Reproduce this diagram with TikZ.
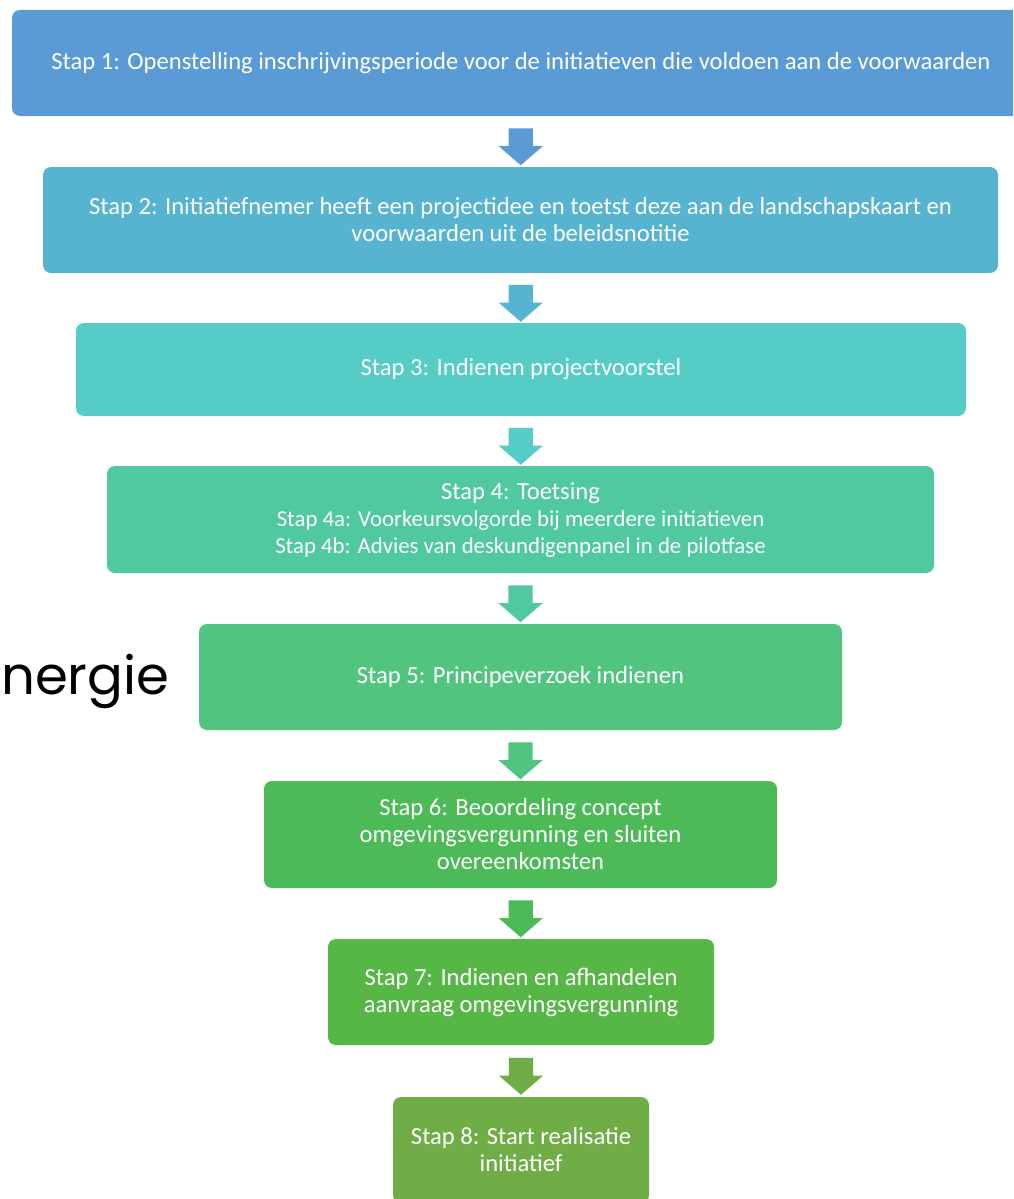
\documentclass[tikz,border=0pt]{standalone}
\usepackage{fontspec}
\setmainfont{Carlito}
\newfontfamily\logofont{Poppins}
\usetikzlibrary{shapes.arrows,calc}
\definecolor{stapA}{HTML}{5B9BD5}
\definecolor{stapB}{HTML}{57B4D0}
\definecolor{stapC}{HTML}{55CDC6}
\definecolor{stapD}{HTML}{50C8A1}
\definecolor{stapE}{HTML}{51C47F}
\definecolor{stapF}{HTML}{4CBB57}
\definecolor{stapG}{HTML}{56B646}
\definecolor{stapH}{HTML}{70AD47}
\newcommand{\kleiner}{\fontsize{22.8}{26}\selectfont}
\tikzset{
  stap/.style = {rectangle, rounded corners=8pt, draw=none, text=white,
    align=center, inner sep=0pt, font=\fontsize{24.6}{27}\selectfont},% blok met stap
  pijl/.style = {single arrow, shape border rotate=270, draw=none,
    inner xsep=12pt, inner ysep=9pt, minimum height=37pt,
    single arrow head extend=10pt, single arrow tip angle=98}% blokpijl omlaag
}
\begin{document}
\begin{tikzpicture}[x=1pt, y=-1pt]
  \useasboundingbox (0,0) rectangle (1013,1199);
  \clip (0,0) rectangle (1013,1199);
  \node [stap, fill=stapA, minimum width=1018pt, minimum height=106pt] (s1) at (521,63)
    {Stap 1: Openstelling inschrijvingsperiode voor de initiatieven die voldoen aan de voorwaarden};
  \node [stap, fill=stapB, minimum width=955pt, minimum height=106pt] (s2) at (520.5,220)
    {Stap 2: Initiatiefnemer heeft een projectidee en toetst deze aan de landschapskaart en\\
     voorwaarden uit de beleidsnotitie};
  \node [stap, fill=stapC, minimum width=890pt, minimum height=93pt] (s3) at (521,369.5)
    {Stap 3: Indienen projectvoorstel};
  \node [stap, fill=stapD, minimum width=827pt, minimum height=107pt] (s4) at (520.5,519.5)
    {Stap 4: Toetsing\\
     \kleiner Stap 4a: Voorkeursvolgorde bij meerdere initiatieven\\
     \kleiner Stap 4b: Advies van deskundigenpanel in de pilotfase};
  \node [stap, fill=stapE, minimum width=643pt, minimum height=106pt] (s5) at (520.5,677)
    {Stap 5: Principeverzoek indienen};
  \node [stap, fill=stapF, minimum width=513pt, minimum height=107pt] (s6) at (520.5,834.5)
    {Stap 6: Beoordeling concept\\omgevingsvergunning en sluiten\\overeenkomsten};
  \node [stap, fill=stapG, minimum width=386pt, minimum height=106pt] (s7) at (521,992)
    {Stap 7: Indienen en afhandelen\\aanvraag omgevingsvergunning};
  \node [stap, fill=stapH, minimum width=256pt, minimum height=106pt] (s8) at (521,1150)
    {Stap 8: Start realisatie\\initiatief};
  % pijlen tussen de stappen
  \foreach \a/\b/\kleur in {s1/s2/stapA, s2/s3/stapB, s3/s4/stapC, s4/s5/stapD,
                            s5/s6/stapE, s6/s7/stapF, s7/s8/stapH}
    \node [pijl, fill=\kleur] (p\a) at ($(\a.south)!0.5!(\b.north)$) {};
  \node [anchor=east, font=\logofont\fontsize{53}{60}\selectfont] (logo) at (173,681) {nergie};
\end{tikzpicture}
\end{document}
